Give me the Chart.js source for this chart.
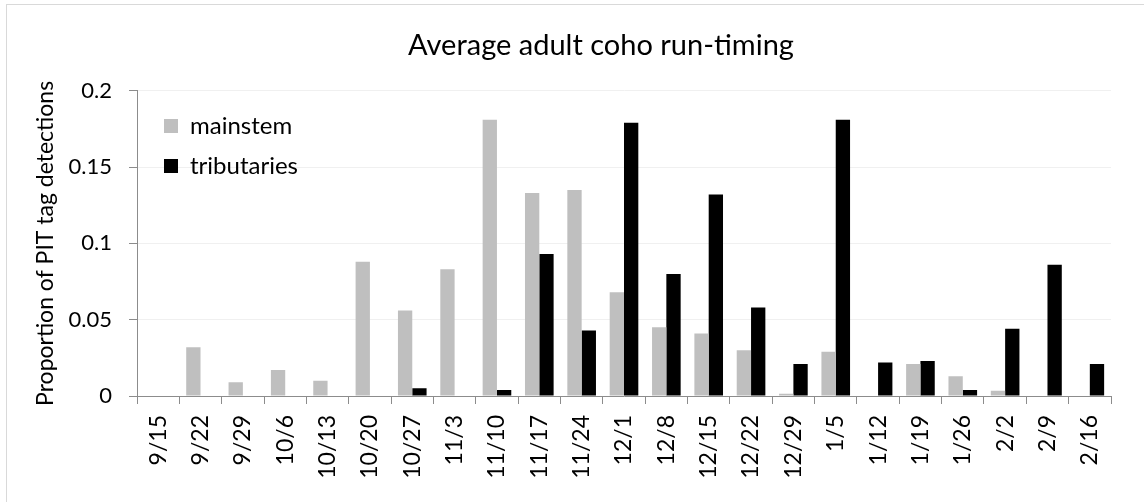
<!DOCTYPE html>
<html>
<head>
<meta charset="utf-8">
<script src="https://cdn.jsdelivr.net/npm/chart.js@4"></script>
<style>
  body { margin: 0; background: #fff; }
  canvas { display: block; }
</style>
</head>
<body>
<canvas id="myChart" width="1144" height="502"></canvas>
<script>
const weeks = ["9/15", "9/22", "9/29", "10/6", "10/13", "10/20", "10/27", "11/3", "11/10", "11/17", "11/24", "12/1",
  "12/8", "12/15", "12/22", "12/29", "1/5", "1/12", "1/19", "1/26", "2/2", "2/9", "2/16"];

const mainstem = [0, 0.032, 0.009, 0.017, 0.010, 0.088, 0.056, 0.083, 0.181, 0.133, 0.135, 0.068,
  0.045, 0.041, 0.030, 0.0015, 0.029, 0, 0.021, 0.013, 0.0035, 0, 0];

const tributaries = [0, 0, 0, 0, 0, 0, 0.005, 0, 0.004, 0.093, 0.043, 0.179,
  0.080, 0.132, 0.058, 0.021, 0.181, 0.022, 0.023, 0.004, 0.044, 0.086, 0.021];

const yTicks = [0, 0.05, 0.1, 0.15, 0.2];

const ctx = document.getElementById("myChart").getContext("2d");

// light frame + legend/title placement
const framePlugin = {
  id: "frame",
  beforeDraw: (chart) => {
    const c = chart.ctx;
    c.save();
    c.fillStyle = "#fff";
    c.fillRect(0, 0, chart.width, chart.height);
    c.strokeStyle = "#d9d9d9";
    c.lineWidth = 1;
    c.strokeRect(6.5, 4.5, 1300, 700);
    c.restore();
  },
  afterLayout: (chart) => {
    const lg = chart.legend;
    lg.left = 148;
    lg.top = 98;
    lg.right = lg.left + lg.width;
    lg.bottom = lg.top + lg.height;
    // title is centred a bit right of the canvas middle
    const tb = chart.titleBlock;
    tb.left = 91;
    tb.right = 1111;
  },
};

const data = {
  labels: weeks,
  datasets: [
    {
      label: "mainstem",
      data: mainstem,
      backgroundColor: "#bfbfbf",
      borderWidth: 0,
    },
    {
      label: "tributaries",
      data: tributaries,
      backgroundColor: "#000000",
      borderWidth: 0,
    },
  ],
};

const config = {
  type: "bar",
  data: data,
  plugins: [framePlugin],
  options: {
    responsive: false,
    devicePixelRatio: 1,
    animation: false,
    categoryPercentage: 0.676,
    barPercentage: 1,
    layout: {
      padding: { left: 0, right: 33, top: 0, bottom: 0 },
    },
    plugins: {
      title: {
        display: true,
        text: "Average adult coho run-timing",
        color: "#000",
        font: { family: "Lato", size: 29, weight: "normal", lineHeight: 1.2 },
        padding: { top: 28, bottom: 28 },
      },
      legend: {
        position: "chartArea",
        align: "start",
        labels: {
          boxWidth: 14,
          boxHeight: 14,
          padding: 16,
          color: "#000",
          font: { family: "Lato", size: 24 },
        },
      },
      tooltip: { enabled: false },
    },
    scales: {
      x: {
        offset: true,
        afterFit: (scale) => {
          scale.height = 106;
        },
        grid: {
          offset: true,
          drawOnChartArea: false,
          drawTicks: true,
          tickLength: 8,
          tickColor: "#8c8c8c",
        },
        border: { color: "#8c8c8c", width: 1 },
        ticks: {
          minRotation: 90,
          maxRotation: 90,
          autoSkip: false,
          padding: 11,
          color: "#000",
          font: { family: "Lato", size: 23 },
        },
      },
      y: {
        min: 0,
        max: 0.2,
        afterFit: (scale) => {
          scale.width = 137;
        },
        afterBuildTicks: (scale) => {
          scale.ticks = yTicks.map((v) => ({ value: v }));
        },
        grid: {
          color: "#f0f0f0",
          tickColor: "#8c8c8c",
          tickLength: 8,
        },
        border: { color: "#8c8c8c", width: 1 },
        ticks: {
          padding: 17,
          color: "#000",
          font: { family: "Lato", size: 22 },
          callback: (v) => String(v),
        },
        title: {
          display: true,
          text: "Proportion of PIT tag detections",
          color: "#000",
          font: { family: "Lato", size: 23, lineHeight: 1.2 },
          padding: { top: 32, bottom: 0 },
        },
      },
    },
  },
};

const myChart = new Chart(ctx, config);
</script>
</body>
</html>
